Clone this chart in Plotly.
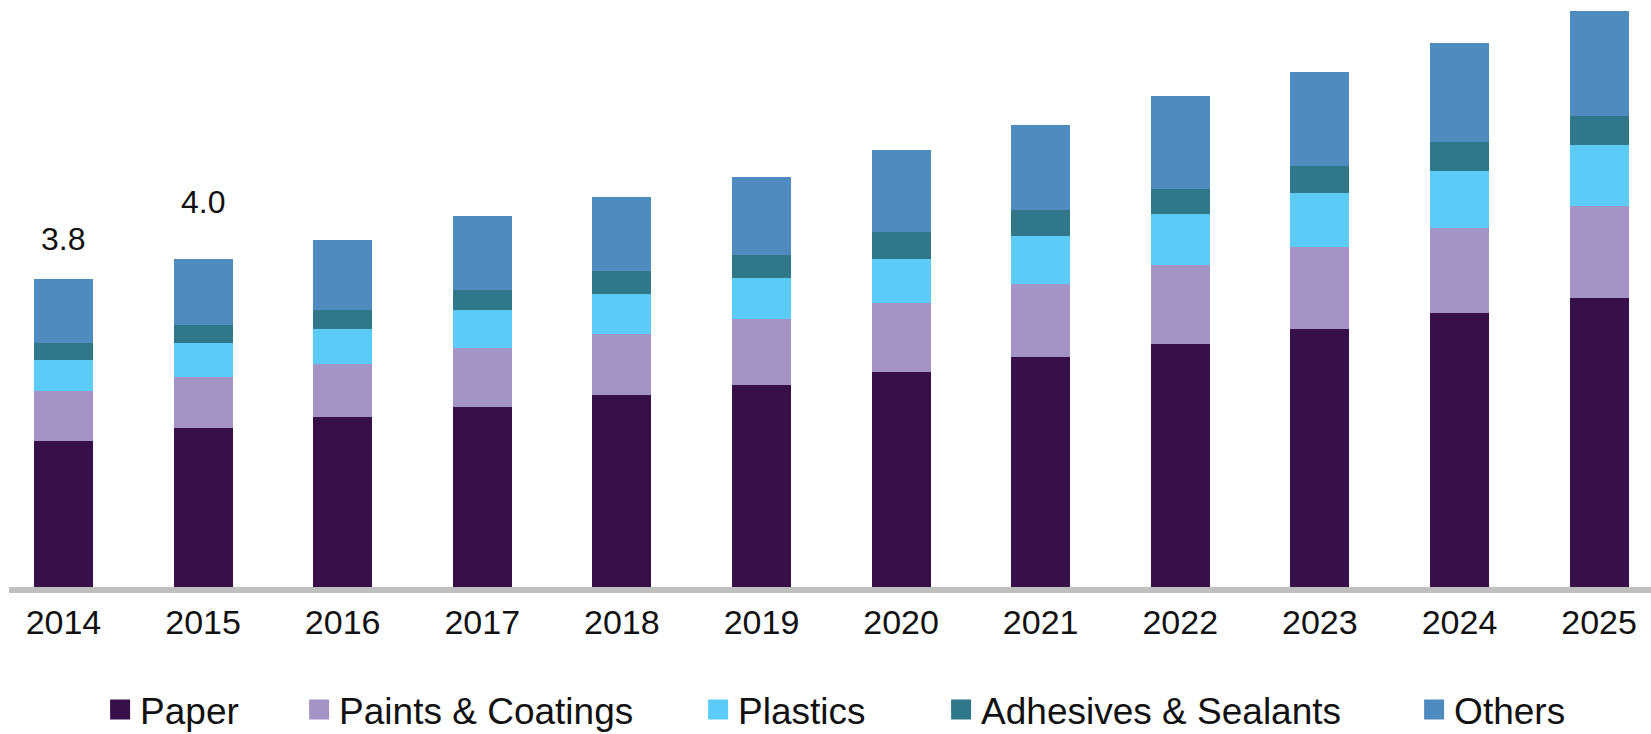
import plotly.graph_objects as go

years = ["2014", "2015", "2016", "2017", "2018", "2019", "2020", "2021", "2022", "2023", "2024", "2025"]

paper = [1.79, 1.95, 2.09, 2.21, 2.36, 2.48, 2.64, 2.82, 2.98, 3.17, 3.36, 3.55]
paints_coatings = [0.61, 0.63, 0.65, 0.72, 0.74, 0.81, 0.85, 0.90, 0.97, 1.00, 1.05, 1.13]
plastics = [0.39, 0.42, 0.43, 0.47, 0.50, 0.50, 0.54, 0.59, 0.63, 0.66, 0.69, 0.74]
adhesives_sealants = [0.21, 0.21, 0.23, 0.25, 0.28, 0.28, 0.32, 0.31, 0.30, 0.33, 0.36, 0.36]
others = [0.78, 0.81, 0.86, 0.90, 0.90, 0.96, 1.01, 1.05, 1.14, 1.16, 1.22, 1.29]

series_names = ["Paper", "Paints & Coatings", "Plastics", "Adhesives & Sealants", "Others"]
series_values = [paper, paints_coatings, plastics, adhesives_sealants, others]
series_colors = ["#37104A", "#A493C5", "#5DCBF7", "#31778A", "#4F8BBE"]
legend_widths = [154, 354, 198, 428, 140]

label_years = ["2014", "2015"]
label_texts = ["3.8", "4.0"]
label_shifts = [40, 57]

FONT = "Liberation Sans, Arial, sans-serif"

fig = go.Figure()
for name, vals, col in zip(series_names, series_values, series_colors):
    fig.add_trace(go.Bar(
        x=years, y=vals, name=name, marker=dict(color=col, line=dict(width=0)),
        showlegend=False, legendgroup=name,
    ))
for name, col, lw in zip(series_names, series_colors, legend_widths):
    fig.add_trace(go.Scatter(
        x=[None], y=[None], mode="markers", name=name, legendgroup=name,
        legendwidth=lw,
        marker=dict(symbol="square", size=16, color=col, line=dict(color=col, width=4)),
    ))

totals = [sum(v) for v in zip(*series_values)]
for yr, txt, sh in zip(label_years, label_texts, label_shifts):
    idx = years.index(yr)
    fig.add_annotation(
        x=idx, y=totals[idx], text=txt, showarrow=False, yanchor="middle",
        yshift=sh, font=dict(family=FONT, size=32, color="#111111"),
    )

fig.update_layout(
    width=1651, height=734,
    margin=dict(l=9, r=0, t=0, b=147),
    barmode="stack", bargap=0.577,
    plot_bgcolor="white", paper_bgcolor="white",
    font=dict(family=FONT, size=34, color="#111111"),
    showlegend=True,
    legend=dict(
        orientation="h", xref="container", yref="container",
        x=(0.057 * 1651 + 6) / 1651, y=1 - 710 / 734, xanchor="left", yanchor="middle",
        font=dict(family=FONT, size=37, color="#111111"),
        itemsizing="trace", traceorder="normal",
        bgcolor="rgba(0,0,0,0)",
    ),
    xaxis=dict(
        type="category", range=[-0.39, 11.372],
        showline=True, linecolor="#BFBFBF", linewidth=6,
        ticks="", showgrid=False, zeroline=False,
        tickfont=dict(family=FONT, size=34, color="#111111"),
    ),
    yaxis=dict(
        range=[0, 587 / 81.5], visible=False, showgrid=False, zeroline=False,
    ),
)

fig.write_html(
    "out.html",
    config={"displayModeBar": False},
    post_script="document.body.style.margin='0';document.body.style.overflow='hidden';",
)
